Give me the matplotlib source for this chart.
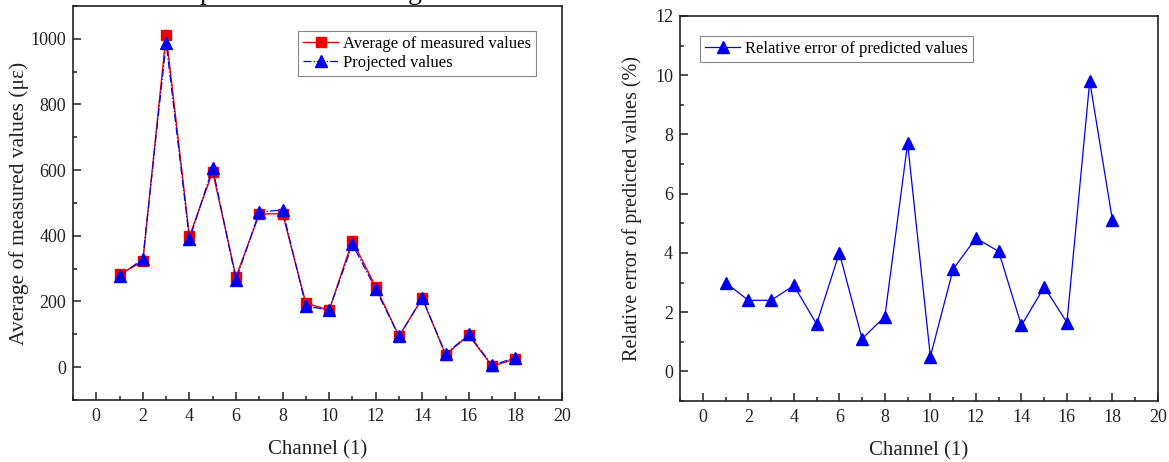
import matplotlib
matplotlib.use("Agg")
import matplotlib.pyplot as plt
from matplotlib.ticker import MultipleLocator

plt.rcParams['font.family'] = ['Liberation Serif', 'DejaVu Serif']
plt.rcParams['mathtext.fontset'] = 'stix'

channels = list(range(1, 19))
measured = [283, 322, 1013, 398, 595, 275, 466, 468, 195, 174, 385, 245, 94, 210, 38, 97, 3, 25]
projected = [278, 330, 988, 390, 607, 266, 472, 479, 186, 174, 374, 238, 94, 210, 40, 100, 6, 29]
rel_error = [3.0, 2.4, 2.4, 2.9, 1.6, 4.0, 1.1, 1.85, 7.7, 0.5, 3.45, 4.5, 4.05, 1.55, 2.85, 1.65, 9.8, 5.1]

W, H = 1169, 462
fig = plt.figure(figsize=(W / 100, H / 100), dpi=100)

def box(l, t, r, b):
    return [l / W, 1 - b / H, (r - l) / W, (b - t) / H]

ax1 = fig.add_axes(box(73, 6, 562, 400))
ax2 = fig.add_axes(box(680, 16, 1158, 401))

def style(ax):
    for s in ax.spines.values():
        s.set_linewidth(1.2)
        s.set_color('#222222')
    ax.tick_params(which='both', direction='in', top=False, right=False,
                   labelsize=13, colors='#222222', width=1.1)
    ax.tick_params(which='major', length=6)
    ax.tick_params(which='minor', length=3)
    ax.tick_params(axis='y', pad=5)
    ax.tick_params(axis='x', pad=6)
    ax.xaxis.set_major_locator(MultipleLocator(2))
    ax.xaxis.set_minor_locator(MultipleLocator(1))
    ax.set_xlim(-1, 20)
    ax.set_xlabel('Channel (1)', fontsize=15, color='#222222', labelpad=11)

# left chart
ax1.plot(channels, measured, '-s', color='#ee0000', lw=1.0, ms=7,
         label='Average of measured values')
ax1.plot(channels, projected, '-.^', color='#0000ee', lw=0.9, ms=8,
         label='Projected values')
ax1.set_ylim(-100, 1100)
ax1.set_yticks([0, 200, 400, 600, 800, 1000])
ax1.yaxis.set_minor_locator(MultipleLocator(100))
style(ax1)
ax1.set_ylabel('Average of measured values (με)', fontsize=15.5, color='#222222', labelpad=1)
leg1 = ax1.legend(loc='upper right', bbox_to_anchor=(0.947, 0.937), fontsize=12,
                  fancybox=False, edgecolor='#888888', framealpha=1,
                  handlelength=2.1, handletextpad=0.3, borderpad=0.3,
                  labelspacing=0.2, borderaxespad=0)
leg1.get_frame().set_linewidth(0.8)

# right chart
ax2.plot(channels, rel_error, '-^', color='#0000ee', lw=0.9, ms=8,
         label='Relative error of predicted values')
ax2.set_ylim(-1, 12)
ax2.set_yticks([0, 2, 4, 6, 8, 10, 12])
ax2.yaxis.set_minor_locator(MultipleLocator(1))
style(ax2)
ax2.set_ylabel('Relative error of predicted values (%)', fontsize=14.5, color='#222222', labelpad=9)
leg2 = ax2.legend(loc='upper left', bbox_to_anchor=(0.042, 0.948), fontsize=12,
                  fancybox=False, edgecolor='#888888', framealpha=1,
                  handlelength=2.1, handletextpad=0.3, borderpad=0.3,
                  borderaxespad=0)
leg2.get_frame().set_linewidth(0.8)

# cropped caption remnants at very top (cut off in the reference as well)
fig.text(207 / W, 1 + 1 / H, 'p', fontsize=20, ha='center', va='baseline', color='#111111')
fig.text(415 / W, 1 + 1 / H, 'g', fontsize=20, ha='center', va='baseline', color='#111111')

fig.savefig('out.png', dpi=100)
